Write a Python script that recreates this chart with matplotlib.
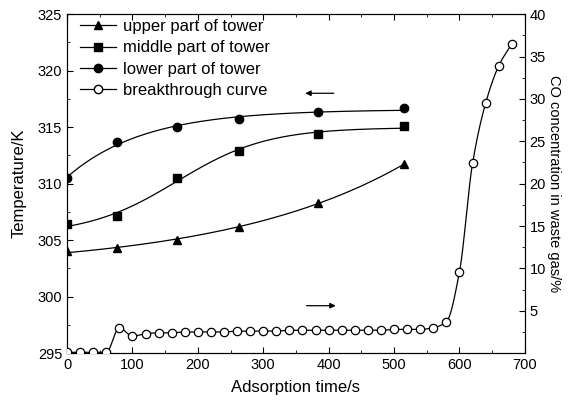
import numpy as np
import matplotlib.pyplot as plt
from matplotlib.ticker import MultipleLocator

plt.rcParams['font.family'] = ['Liberation Sans', 'DejaVu Sans']

# temperature data (left axis)
t_temp = [0, 77, 168, 263, 383, 515]
upper = [304.0, 304.3, 305.0, 306.2, 308.3, 311.7]
middle = [306.4, 307.1, 310.5, 312.9, 314.4, 315.1]
lower = [310.5, 313.7, 315.0, 315.7, 316.3, 316.7]

# breakthrough curve (right axis)
t_co = [0, 20, 40, 60, 80, 100, 120, 140, 160, 180, 200, 220, 240, 260, 280,
        300, 320, 340, 360, 380, 400, 420, 440, 460, 480, 500, 520, 540, 560,
        580, 600, 620, 640, 660, 680]
co = [0.1, 0.1, 0.1, 0.1, 3.0, 2.0, 2.3, 2.4, 2.4, 2.5, 2.5, 2.5, 2.5, 2.6, 2.6,
      2.6, 2.6, 2.7, 2.7, 2.7, 2.7, 2.7, 2.7, 2.7, 2.7, 2.8, 2.8, 2.8, 3.0,
      3.7, 9.6, 22.4, 29.5, 33.9, 36.5]


def fit_basis(x, y, xs, basis, params):
    # least squares y = a + b*f(x; p), best p from the grid
    x = np.asarray(x, float)
    y = np.asarray(y, float)
    best = None
    for p in params:
        A = np.column_stack([np.ones_like(x), basis(x, p)])
        coef, res, *_ = np.linalg.lstsq(A, y, rcond=None)
        err = np.sum((A @ coef - y) ** 2)
        if best is None or err < best[0]:
            best = (err, p, coef)
    _, p, coef = best
    return coef[0] + coef[1] * basis(xs, p)


def pchip(x, y, xs):
    x = np.asarray(x, float)
    y = np.asarray(y, float)
    h = np.diff(x)
    d = np.diff(y) / h
    m = np.zeros_like(y)
    for k in range(1, len(x) - 1):
        if d[k - 1] * d[k] > 0:
            w1 = 2 * h[k] + h[k - 1]
            w2 = h[k] + 2 * h[k - 1]
            m[k] = (w1 + w2) / (w1 / d[k - 1] + w2 / d[k])
    m[0] = d[0]
    m[-1] = d[-1]
    i = np.clip(np.searchsorted(x, xs) - 1, 0, len(x) - 2)
    t = (xs - x[i]) / h[i]
    h00 = 2 * t**3 - 3 * t**2 + 1
    h10 = t**3 - 2 * t**2 + t
    h01 = -2 * t**3 + 3 * t**2
    h11 = t**3 - t**2
    return h00 * y[i] + h10 * h[i] * m[i] + h01 * y[i + 1] + h11 * h[i] * m[i + 1]


fig = plt.figure(figsize=(5.73, 4.05), dpi=100)
ax = fig.add_axes([0.117, 0.128, 0.799, 0.837])

xs = np.linspace(0, 515, 300)
grow = lambda x, c: np.exp(np.asarray(x) / c)
decay = lambda x, c: np.exp(-np.asarray(x) / c)
sig = lambda x, p: 1.0 / (1.0 + np.exp(-(np.asarray(x) - p[0]) / p[1]))
sig_grid = [(x0, dx) for x0 in np.arange(100, 260, 4) for dx in np.arange(30, 120, 3)]

fits = [fit_basis(t_temp, upper, xs, grow, np.arange(100, 800, 5)),
        fit_basis(t_temp, middle, xs, sig, sig_grid),
        fit_basis(t_temp, lower, xs, decay, np.arange(30, 400, 2))]

series = [(upper, '^', 'upper part of tower'),
          (middle, 's', 'middle part of tower'),
          (lower, 'o', 'lower part of tower')]
handles = []
for (ys, m, lab), yf in zip(series, fits):
    ax.plot(xs, yf, color='black', lw=0.9)
    ax.plot(t_temp, ys, m, color='black', ms=6, zorder=5)
    h, = ax.plot([], [], color='black', marker=m, ms=6, lw=0.9, label=lab)
    handles.append(h)

ax2 = ax.twinx()
xc = np.linspace(0, 680, 700)
ax2.plot(xc, pchip(t_co, co, xc), color='black', lw=0.9)
ax2.plot(t_co, co, 'o', ms=6, mfc='white', mec='black', mew=0.9, zorder=5)
h, = ax.plot([], [], color='black', marker='o', ms=6, mfc='white', lw=0.9,
             label='breakthrough curve')
handles.append(h)

ax.set_xlim(0, 700)
ax.set_ylim(295, 325)
ax2.set_ylim(0, 40)
ax.xaxis.set_major_locator(MultipleLocator(100))
ax.xaxis.set_minor_locator(MultipleLocator(50))
ax.yaxis.set_major_locator(MultipleLocator(5))
ax.yaxis.set_minor_locator(MultipleLocator(2.5))
ax2.set_yticks([5, 10, 15, 20, 25, 30, 35, 40])
ax2.yaxis.set_minor_locator(MultipleLocator(2.5))

for a in (ax, ax2):
    a.tick_params(which='both', direction='in', labelsize=10.5, top=True)
    a.tick_params(which='major', length=4)
    a.tick_params(which='minor', length=2)
ax.tick_params(which='both', right=False)

ax.set_xlabel('Adsorption time/s', fontsize=12, labelpad=6)
ax.set_ylabel('Temperature/K', fontsize=12, labelpad=8)
ax2.set_ylabel('CO concentration in waste gas/%', fontsize=10.5, rotation=270,
               labelpad=11)

ax.legend(handles=handles, loc='upper left', bbox_to_anchor=(0.017, 1.0),
          frameon=False, fontsize=12, handlelength=2.2, borderaxespad=0.0,
          borderpad=0.3, labelspacing=0.37, handletextpad=0.4)

ax.annotate('', xy=(360, 318.0), xytext=(412, 318.0),
            arrowprops=dict(arrowstyle='-|>', color='black', lw=0.9,
                            mutation_scale=8))
ax2.annotate('', xy=(415, 5.6), xytext=(362, 5.6),
             arrowprops=dict(arrowstyle='-|>', color='black', lw=0.9,
                             mutation_scale=8))

fig.savefig('out.png', dpi=100)
